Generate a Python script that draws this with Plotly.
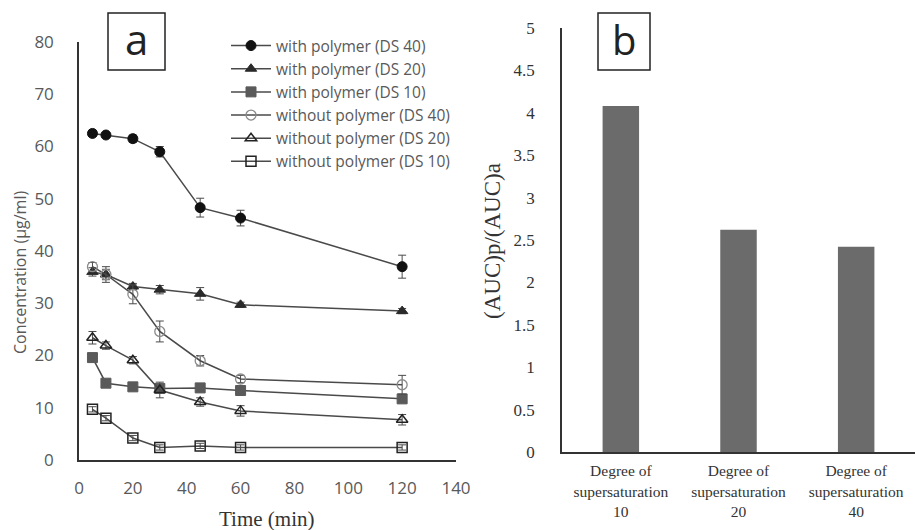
import plotly.graph_objects as go

time_min = [5, 10, 20, 30, 45, 60, 120]

series_names = [
    "with polymer (DS 40)",
    "with polymer (DS 20)",
    "with polymer (DS 10)",
    "without polymer (DS 40)",
    "without polymer (DS 20)",
    "without polymer (DS 10)",
]
with_ds40 = [62.5, 62.2, 61.5, 59.0, 48.3, 46.3, 37.0]
with_ds20 = [36.0, 35.5, 33.2, 32.6, 31.8, 29.7, 28.5]
with_ds10 = [19.6, 14.7, 14.0, 13.7, 13.8, 13.3, 11.7]
wo_ds40 = [37.0, 35.5, 31.7, 24.6, 19.0, 15.5, 14.4]
wo_ds20 = [23.4, 21.9, 19.1, 13.4, 11.1, 9.4, 7.7]
wo_ds10 = [9.7, 8.0, 4.2, 2.4, 2.7, 2.4, 2.4]

err_with_ds40 = [0.6, 0.5, 0.7, 1.0, 1.8, 1.5, 2.2]
err_with_ds20 = [0.8, 1.0, 0.6, 0.8, 1.2, 0.5, 0.5]
err_with_ds10 = [0.5, 0.5, 0.5, 0.5, 0.5, 0.5, 0.5]
err_wo_ds40 = [0.8, 1.5, 1.8, 2.0, 1.0, 0.7, 1.8]
err_wo_ds20 = [1.2, 0.7, 0.7, 1.5, 0.8, 1.0, 1.0]
err_wo_ds10 = [0.5, 0.5, 0.5, 0.5, 0.5, 0.5, 0.5]

bar_categories = ["Degree of<br>supersaturation<br>10",
                  "Degree of<br>supersaturation<br>20",
                  "Degree of<br>supersaturation<br>40"]
auc_ratio = [4.08, 2.62, 2.42]

W, H = 915, 530
def px(x):
    return x / W
def py(y):
    return 1 - y / H

LINE = "#4a4a4a"
GREY_TXT = "#595959"

series = [
    (series_names[0], with_ds40, err_with_ds40, dict(symbol="circle", size=10, color="#111111", line=dict(color="#111111", width=1))),
    (series_names[1], with_ds20, err_with_ds20, dict(symbol="triangle-up", size=10, color="#2a2a2a", line=dict(color="#2a2a2a", width=1))),
    (series_names[2], with_ds10, err_with_ds10, dict(symbol="square", size=10, color="#5a5a5a", line=dict(color="#5a5a5a", width=1))),
    (series_names[3], wo_ds40, err_wo_ds40, dict(symbol="circle-open", size=10, color="#8a8a8a", line=dict(color="#8a8a8a", width=1.3))),
    (series_names[4], wo_ds20, err_wo_ds20, dict(symbol="triangle-up-open", size=10, color="#222222", line=dict(color="#222222", width=1.5))),
    (series_names[5], wo_ds10, err_wo_ds10, dict(symbol="square-open", size=10, color="#222222", line=dict(color="#222222", width=1.5))),
]

fig = go.Figure()
for i, (name, ys, es, mk) in enumerate(series):
    fig.add_trace(go.Scatter(
        x=time_min, y=ys, name=name, mode="lines+markers",
        line=dict(color=LINE, width=1.5), marker=mk,
        error_y=dict(type="data", array=es, visible=True, color=LINE, thickness=1, width=4),
        xaxis="x", yaxis="y", legendgroup=f"g{i}",
    ))

fig.add_trace(go.Bar(
    x=[0, 1, 2], y=auc_ratio, marker=dict(color="#6b6b6b", line=dict(width=0)),
    width=0.31, showlegend=False, xaxis="x2", yaxis="y2",
))

fig.update_layout(
    width=W, height=H,
    margin=dict(l=0, r=0, t=0, b=0),
    paper_bgcolor="white", plot_bgcolor="white",
    xaxis=dict(domain=[px(79), px(456)], range=[0, 140], tickvals=list(range(0, 141, 20)),
               showgrid=False, zeroline=False, showline=True, linecolor="#333333", linewidth=1.5,
               ticks="", ticklabelstandoff=12, automargin=False,
               tickfont=dict(family="Open Sans", size=17, color=GREY_TXT), anchor="y"),
    yaxis=dict(domain=[py(460), py(42)], range=[0, 80], tickvals=list(range(0, 81, 10)),
               showgrid=False, zeroline=False, showline=True, linecolor="#333333", linewidth=1.5,
               ticks="", ticklabelstandoff=20, automargin=False,
               tickfont=dict(family="Open Sans", size=17, color=GREY_TXT), anchor="x"),
    xaxis2=dict(domain=[px(562), 1.0], range=[-0.5, 2.5], tickvals=[0, 1, 2], ticktext=bar_categories,
                showgrid=False, zeroline=False, showline=True, linecolor="#333333", linewidth=1.5,
                ticks="", ticklabelstandoff=4, automargin=False,
                tickfont=dict(family="Liberation Serif", size=15.5, color="#333333"), anchor="y2"),
    yaxis2=dict(domain=[py(452), py(28)], range=[0, 5], tickvals=[0, 0.5, 1, 1.5, 2, 2.5, 3, 3.5, 4, 4.5, 5],
                ticktext=["0", "0.5", "1", "1.5", "2", "2.5", "3", "3.5", "4", "4.5", "5"],
                showgrid=False, zeroline=False, showline=True, linecolor="#333333", linewidth=1.5,
                ticks="", ticklabelstandoff=22, automargin=False,
                tickfont=dict(family="Liberation Serif", size=17, color="#333333"), anchor="x2"),
    legend=dict(x=px(226), y=py(29), xanchor="left", yanchor="top",
                font=dict(family="Open Sans", size=15.5, color=GREY_TXT),
                bgcolor="rgba(0,0,0,0)", borderwidth=0,
                traceorder="grouped", tracegroupgap=0, itemwidth=40),
    showlegend=True,
)

fig.add_annotation(x=px(20), y=py(273), xref="paper", yref="paper", text="Concentration (µg/ml)",
                   xanchor="center", yanchor="middle",
                   textangle=-90, showarrow=False, font=dict(family="Open Sans", size=16, color=GREY_TXT))
fig.add_annotation(x=px(266), y=py(519), xref="paper", yref="paper", text="Time (min)",
                   xanchor="center", yanchor="middle",
                   showarrow=False, font=dict(family="Liberation Serif", size=21, color="#333333"))
fig.add_annotation(x=px(492), y=py(241), xref="paper", yref="paper", text="(AUC)p/(AUC)a",
                   xanchor="center", yanchor="middle",
                   textangle=-90, showarrow=False, font=dict(family="Liberation Serif", size=23, color="#333333"))

fig.add_shape(type="rect", xref="paper", yref="paper", x0=px(108), x1=px(165), y0=py(70), y1=py(13),
              line=dict(color="#222222", width=1.5), fillcolor="white")
fig.add_annotation(x=px(136), y=py(39), xref="paper", yref="paper", text="a", showarrow=False,
                   xanchor="center", yanchor="middle",
                   font=dict(family="Open Sans", size=42, color="#222222"))
fig.add_shape(type="rect", xref="paper", yref="paper", x0=px(598), x1=px(650), y0=py(70), y1=py(13),
              line=dict(color="#222222", width=1.5), fillcolor="white")
fig.add_annotation(x=px(624), y=py(40), xref="paper", yref="paper", text="b", showarrow=False,
                   xanchor="center", yanchor="middle",
                   font=dict(family="Open Sans", size=40, color="#222222"))

fig.write_html("out.html")
